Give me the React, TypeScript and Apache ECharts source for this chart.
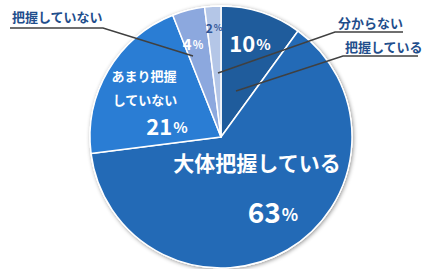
import React, { useEffect, useRef } from "react";
import * as echarts from "echarts";

const categories = ["把握している", "大体把握している", "あまり把握していない", "把握していない", "分からない"];
const values = [10, 63, 21, 4, 2];
const colors = ["#1F5C9C", "#236AB6", "#2A7DD4", "#8CA8DE", "#B4C6E7"];

const FONT = '"Noto Sans CJK JP", "Noto Sans", sans-serif';
const LABEL_BLUE = "#1F4E8C";

export default function App() {
  const ref = useRef<HTMLDivElement>(null);
  useEffect(() => {
    document.body.style.margin = "0";
    const chart = echarts.init(ref.current!, null, { renderer: "svg" });
    const cx = 221, cy = 137, r = 131;
    const pct = (i: number) => `{v|${values[i]}}{p|%}`;
    const inner = (x: number, y: number, text: string, rich: any, fill = "#fff", lineHeight?: number) => ({
      type: "text",
      x, y, z: 10,
      style: {
        text, fill, align: "center", verticalAlign: "middle",
        fontFamily: FONT, fontWeight: "bold", rich, lineHeight,
      },
    });
    const richNum = (v: number, p: number, fill = "#fff") => ({
      v: { fontSize: v, fontWeight: "bold", fill, fontFamily: FONT },
      p: { fontSize: p, fontWeight: "bold", fill, fontFamily: FONT, padding: [Math.round((v - p) * 0.35), 0, 0, 1] },
    });
    const outer = (x: number, y: number, text: string, pts: number[][]) => [
      {
        type: "text", x, y, z: 10,
        style: { text, fill: LABEL_BLUE, fontSize: 13, fontWeight: "bold", fontFamily: FONT, align: "left", verticalAlign: "middle" },
      },
      {
        type: "polyline", z: 10,
        shape: { points: pts },
        style: { stroke: "#404040", lineWidth: 1.5, fill: null },
      },
    ];
    chart.setOption({
      animation: false,
      graphic: [
        {
          type: "circle", z: 0,
          shape: { cx, cy, r: r + 0.5 },
          style: { fill: "#fff", shadowBlur: 4, shadowColor: "rgba(0,0,0,0.45)", shadowOffsetX: 1, shadowOffsetY: 1 },
        },
        inner(250, 42, pct(0), richNum(22, 15)),
        inner(257, 162, categories[1], undefined),
        inner(273, 211, pct(1), richNum(28, 17)),
        inner(144, 75, "あまり把握", undefined),
        inner(145, 99, "していない", undefined),
        inner(167, 125, pct(2), richNum(22, 15)),
        inner(193, 43, pct(3), richNum(15, 11)),
        inner(214, 27, pct(4), richNum(12, 9, "#2F5597")),
        ...outer(338, 22, categories[4], [[218, 73], [335, 32], [403, 32]]),
        ...outer(345, 46, categories[0], [[236, 91], [343, 56], [418, 56]]),
        ...outer(12, 16, categories[3], [[193, 56], [103, 28], [10, 28]]),
      ].map((g: any) => {
        if (g.type === "text" && g.style && !g.style.rich) {
          if (g.style.fill === "#fff") g.style.fontSize = g.style.text === categories[1] ? 21 : 13;
        }
        return g;
      }),
      series: [
        {
          type: "pie",
          center: [cx, cy],
          radius: r,
          startAngle: 90,
          clockwise: true,
          z: 2,
          label: { show: false },
          labelLine: { show: false },
          itemStyle: { borderColor: "#fff", borderWidth: 1.5 },
          emphasis: { disabled: true },
          data: categories.map((name, i) => ({ name, value: values[i], itemStyle: { color: colors[i] } })),
        },
      ],
    });
    return () => chart.dispose();
  }, []);
  return <div ref={ref} style={{ width: 431, height: 269 }} />;
}
